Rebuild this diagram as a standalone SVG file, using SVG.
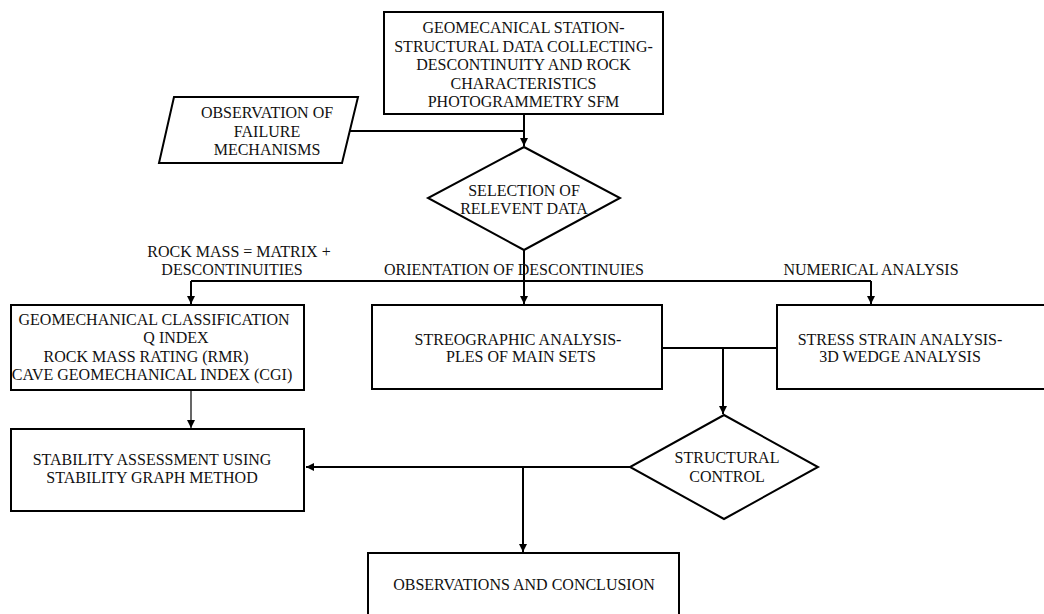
<svg xmlns="http://www.w3.org/2000/svg" width="1044" height="614" viewBox="0 0 1044 614">
<style>
.n{fill:#fff;stroke:#000;stroke-width:2}
.t{font-family:"Liberation Serif","Times New Roman",serif;font-size:16px;fill:#111;text-anchor:middle}
.c{fill:none;stroke:#000;stroke-width:2}
.thin{fill:none;stroke:#000;stroke-width:1.2}
</style>
<defs>
<marker id="ah" markerWidth="10" markerHeight="10" refX="9" refY="5" orient="auto" markerUnits="userSpaceOnUse">
<path d="M1,1 L9,5 L1,9 Z" fill="#000"/>
</marker>
</defs>
<rect width="1044" height="614" fill="#fff"/>
<g id="connectors">
<path class="c" d="M524,114 V146" marker-end="url(#ah)"/>
<path class="c" d="M350,131 H524"/>
<path class="c" d="M524,250 V304" marker-end="url(#ah)"/>
<path class="c" d="M191,281 H871"/>
<path class="c" d="M191,281 V304" marker-end="url(#ah)"/>
<path class="c" d="M871,281 V304" marker-end="url(#ah)"/>
<path class="thin" d="M191,391 V428" marker-end="url(#ah)"/>
<path class="c" d="M662,348 H777"/>
<path class="c" d="M723,348 V414" marker-end="url(#ah)"/>
<path class="c" d="M630,467 H306" marker-end="url(#ah)"/>
<path class="c" d="M523,467 V552" marker-end="url(#ah)"/>
</g>
<g id="labels">
<text class="t" x="239" y="257">ROCK MASS = MATRIX +</text>
<text class="t" x="232" y="275">DESCONTINUITIES</text>
<text class="t" x="514" y="275">ORIENTATION OF DESCONTINUIES</text>
<text class="t" x="871" y="275">NUMERICAL ANALYSIS</text>
</g>
<g id="station">
<rect class="n" x="384" y="12" width="279" height="102"/>
<text class="t" x="523.5" y="33">GEOMECANICAL STATION-</text>
<text class="t" x="523.5" y="52">STRUCTURAL DATA COLLECTING-</text>
<text class="t" x="523.5" y="70">DESCONTINUITY AND ROCK</text>
<text class="t" x="523.5" y="89">CHARACTERISTICS</text>
<text class="t" x="523.5" y="107">PHOTOGRAMMETRY SFM</text>
</g>
<g id="observation">
<polygon class="n" points="174,97 358,97 342,163 159,163"/>
<text class="t" x="267" y="118">OBSERVATION OF</text>
<text class="t" x="267" y="137">FAILURE</text>
<text class="t" x="267" y="155">MECHANISMS</text>
</g>
<g id="selection">
<polygon class="n" points="524,147 620,198 524,250 428,198"/>
<text class="t" x="524" y="196">SELECTION OF</text>
<text class="t" x="524" y="214">RELEVENT DATA</text>
</g>
<g id="classification">
<rect class="n" x="11" y="305" width="293" height="85"/>
<text class="t" x="154" y="325">GEOMECHANICAL CLASSIFICATION</text>
<text class="t" x="176" y="343">Q INDEX</text>
<text class="t" x="146" y="362">ROCK MASS RATING (RMR)</text>
<text class="t" x="152" y="380">CAVE GEOMECHANICAL INDEX (CGI)</text>
</g>
<g id="stereographic">
<rect class="n" x="372" y="305" width="290" height="84"/>
<text class="t" x="518" y="345">STREOGRAPHIC ANALYSIS-</text>
<text class="t" x="521" y="362">PLES OF MAIN SETS</text>
</g>
<g id="stress">
<rect class="n" x="777" y="305" width="270" height="84"/>
<text class="t" x="900" y="345">STRESS STRAIN ANALYSIS-</text>
<text class="t" x="900" y="362">3D WEDGE ANALYSIS</text>
</g>
<g id="stability">
<rect class="n" x="11" y="429" width="293" height="82"/>
<text class="t" x="152" y="465">STABILITY ASSESSMENT USING</text>
<text class="t" x="152" y="483">STABILITY GRAPH METHOD</text>
</g>
<g id="structural">
<polygon class="n" points="724,415 818,467 724,519 630,467"/>
<text class="t" x="727" y="463">STRUCTURAL</text>
<text class="t" x="727" y="482">CONTROL</text>
</g>
<g id="conclusion">
<rect class="n" x="368" y="553" width="311" height="70"/>
<text class="t" x="524" y="590">OBSERVATIONS AND CONCLUSION</text>
</g>
</svg>
